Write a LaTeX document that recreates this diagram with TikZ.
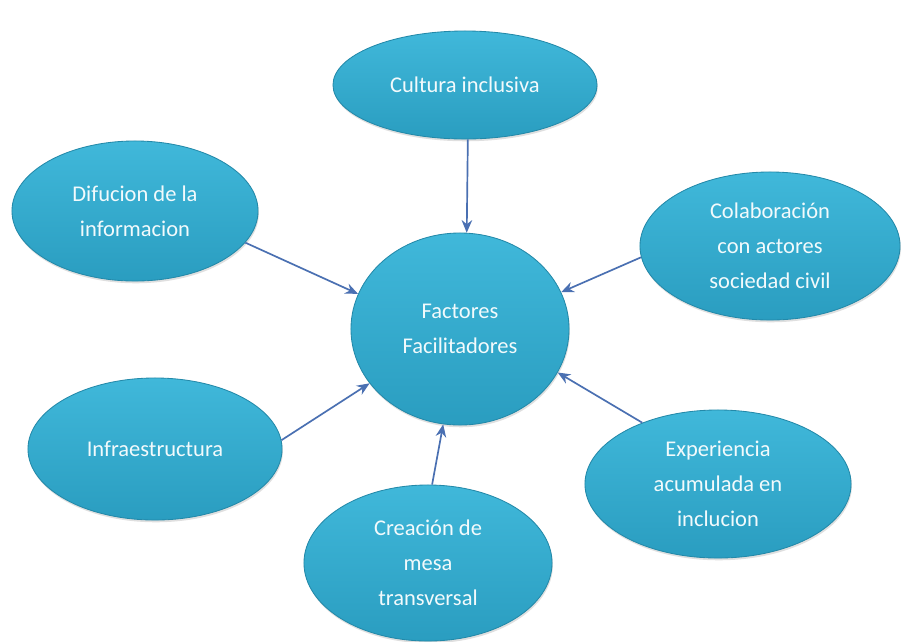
\documentclass[tikz,border=0pt]{standalone}
\usepackage{fontspec}
\setmainfont{Carlito}
\usetikzlibrary{shapes.geometric,arrows.meta,shadows}
\definecolor{bubtop}{HTML}{40B8DA}
\definecolor{bubbot}{HTML}{2A9DC0}
\definecolor{bubrim}{HTML}{2389A9}
\definecolor{bubtext}{HTML}{F2FAFC}
\definecolor{arrcol}{HTML}{4A70B2}
\begin{document}
\begin{tikzpicture}[x=0.025cm, y=-0.025cm,
  bubble/.style = {ellipse, inner sep=0pt, align=center, text=bubtext,
    top color=bubtop, bottom color=bubbot, draw=bubrim, line width=0.6pt,
    drop shadow={opacity=0.25, shadow xshift=0.6pt, shadow yshift=-1.6pt},
    font=\fontsize{16}{25}\selectfont},
  arr/.style = {draw=arrcol, line width=1.2pt, -{Stealth[length=9pt,width=7.5pt]}}]
\useasboundingbox[fill=white] (0,0) rectangle (901,641);
% centre
\node[bubble, minimum width=5.45cm, minimum height=4.8cm] (fac) at (460,329) {Factores\\Facilitadores};
% surrounding factors
\node[bubble, minimum width=6.6cm, minimum height=2.7cm] (cul) at (465,85) {Cultura inclusiva};
\node[bubble, minimum width=6.15cm, minimum height=3.5cm] (dif) at (135,211) {Difucion de la\\informacion};
\node[bubble, minimum width=6.5cm, minimum height=3.7cm] (col) at (770,246) {Colaboración\\con actores\\sociedad civil};
\node[bubble, minimum width=6.35cm, minimum height=3.55cm] (inf) at (155,449) {Infraestructura};
\node[bubble, minimum width=6.65cm, minimum height=3.7cm] (exp) at (718,484) {Experiencia\\acumulada en\\inclucion};
\node[bubble, minimum width=6.2cm, minimum height=3.9cm] (cre) at (428,563) {Creación de\\mesa\\transversal};
% arrows into the centre
\foreach \src/\from/\to in {cul/-87/86, dif/-16/161, col/185/20, inf/4/211, exp/141/-24, cre/87/260}
  \draw[arr] (\src.\from) -- (fac.\to);
\end{tikzpicture}
\end{document}
